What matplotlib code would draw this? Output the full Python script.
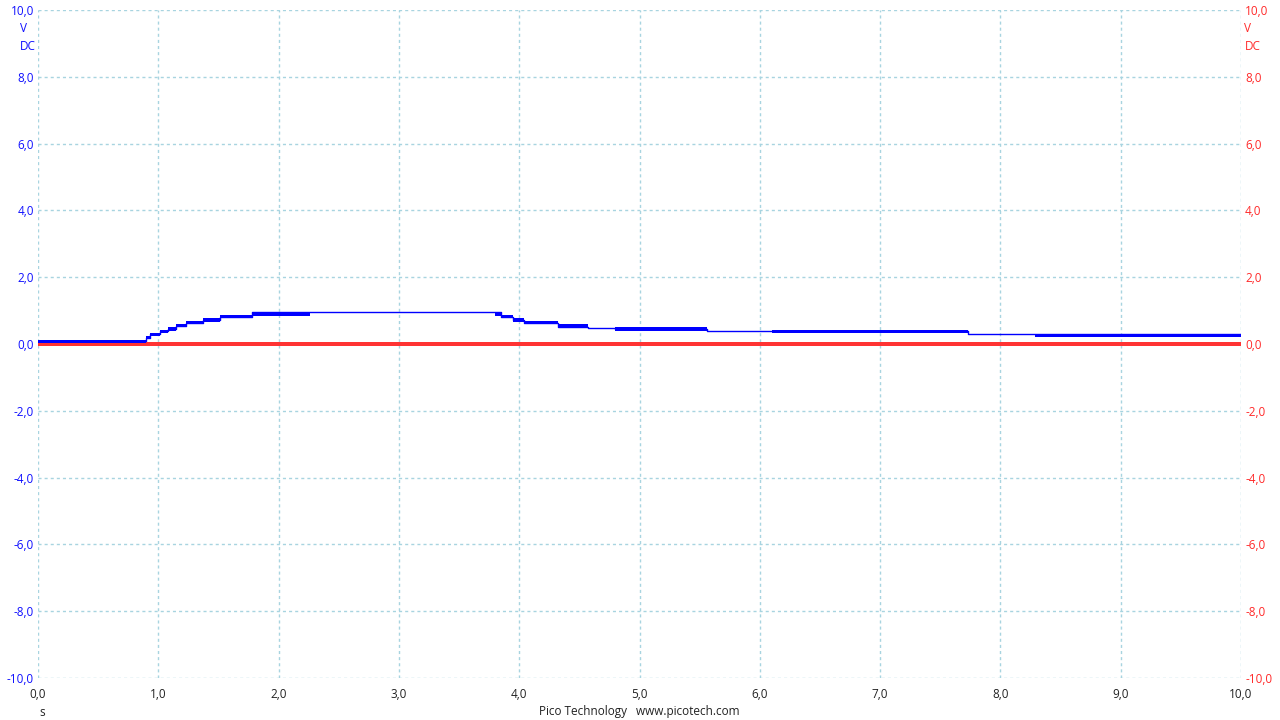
import numpy as np
import matplotlib.pyplot as plt

# tempos de inicio de cada degrau (s) e faixa de tensao do canal A (V)
t_azul = [0.00, 0.90, 0.93, 1.01, 1.08, 1.15, 1.23, 1.37, 1.51, 1.78, 2.26,
          3.80, 3.85, 3.95, 4.04, 4.32, 4.57, 4.80, 5.56, 6.10, 7.73, 8.29, 10.0]
azul_min = [0.03, 0.14, 0.23, 0.32, 0.38, 0.50, 0.59, 0.65, 0.77, 0.83, 0.96,
            0.83, 0.77, 0.65, 0.59, 0.47, 0.48, 0.40, 0.40, 0.32, 0.31, 0.20, 0.20]
azul_max = [0.13, 0.23, 0.32, 0.41, 0.50, 0.59, 0.68, 0.77, 0.86, 0.96, 0.96,
            0.96, 0.86, 0.77, 0.68, 0.59, 0.48, 0.50, 0.40, 0.41, 0.31, 0.31, 0.31]
azul_linha = [0.08, 0.18, 0.30, 0.38, 0.45, 0.55, 0.64, 0.72, 0.82, 0.96, 0.96,
              0.96, 0.82, 0.72, 0.62, 0.50, 0.48, 0.45, 0.40, 0.38, 0.31, 0.31, 0.31]

# canal B (vermelho) praticamente em zero
t_verm = [0.00, 0.90, 10.0]
verm_min = [-0.06, -0.06, -0.06]
verm_max = [0.03, 0.06, 0.06]

ticks_x = np.arange(0, 11, 1)
ticks_y = np.arange(-10, 12, 2)

def fmt(v):
    return f"{v:.1f}".replace(".", ",")

fig = plt.figure(figsize=(12.8, 7.2), dpi=100)
ax = fig.add_axes([38/1280, 1 - 678/720, (1241 - 38)/1280, (678 - 10)/720])
fonte = "Open Sans"
tam = 8.5

ax.fill_between(t_verm, verm_min, verm_max, step="post", color="#ff3333", lw=0, zorder=2)
ax.fill_between(t_azul, azul_min, azul_max, step="post", color="#0000ff", lw=0, zorder=3)
ax.step(t_azul, azul_linha, where="post", color="#0000ff", lw=1.0, zorder=3)

ax.set_xlim(0, 10)
ax.set_ylim(-10, 10)
ax.set_xticks(ticks_x)
ax.set_yticks(ticks_y)
ax.set_xticklabels([fmt(v) for v in ticks_x], fontsize=tam, family=fonte, color="#222222")
ax.set_yticklabels([fmt(v) for v in ticks_y], fontsize=tam, family=fonte, color="#1010ff")
ax.tick_params(length=0, pad=3)
ax.tick_params(axis="x", pad=7)
ax.grid(True, color="#a8d4e0", ls=(0, (2.2, 2.2)), lw=1)
for s in ax.spines.values():
    s.set_visible(False)

ax2 = ax.twinx()
ax2.set_ylim(-10, 10)
ax2.set_yticks(ticks_y)
ax2.set_yticklabels([fmt(v) for v in ticks_y], fontsize=tam, family=fonte, color="#ff2a2a")
ax2.tick_params(length=0, pad=3)
for s in ax2.spines.values():
    s.set_visible(False)

# unidades
fig.text(24/1280, 1 - 29/720, "V", color="#1010ff", fontsize=tam, family=fonte, ha="center", va="center")
fig.text(28/1280, 1 - 46/720, "DC", color="#1010ff", fontsize=tam, family=fonte, ha="center", va="center")
fig.text(1248/1280, 1 - 29/720, "V", color="#ff2a2a", fontsize=tam, family=fonte, ha="center", va="center")
fig.text(1253/1280, 1 - 46/720, "DC", color="#ff2a2a", fontsize=tam, family=fonte, ha="center", va="center")
fig.text(42/1280, 1 - 712/720, "s", color="#222222", fontsize=tam, family=fonte, ha="center", va="center")
fig.text(639/1280, 1 - 712/720, "Pico Technology   www.picotech.com", color="#222222",
         fontsize=tam, family=fonte, ha="center", va="center")

fig.savefig("out.png", dpi=100, facecolor="white")
